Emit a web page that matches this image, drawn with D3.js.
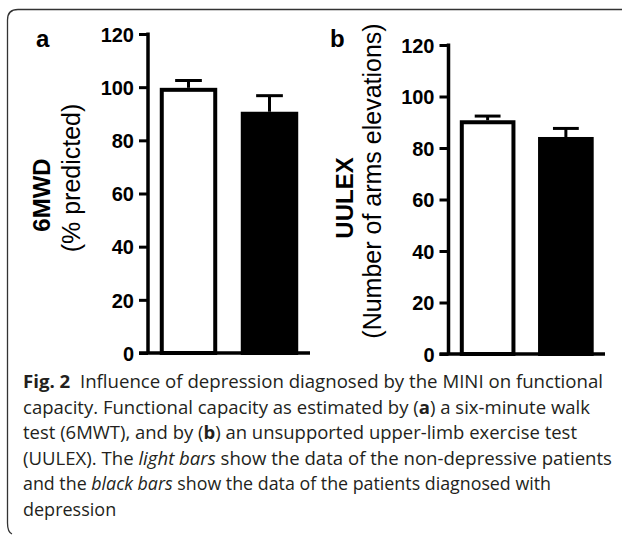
<!DOCTYPE html>
<html>
<head>
<meta charset="utf-8">
<script src="https://cdn.jsdelivr.net/npm/d3@7"></script>
<style>
  body { margin: 0; background: #fff; }
  svg { display: block; }
  .tick-label { font-family: "Liberation Sans", Arial, sans-serif; font-weight: bold; font-size: 20px; }
  .caption { font-family: "Open Sans", "Noto Sans", sans-serif; font-size: 18px; fill: #231f20; }
</style>
</head>
<body>
<div id="chart"></div>
<script>
const groups = ["Non-depressive", "Depressive"];
const yTicks = [0, 20, 40, 60, 80, 100, 120];

// panel a: 6MWD (% predicted), mean and SEM
const sixMwdMean = [99, 90];
const sixMwdSem = [3.5, 6.8];

// panel b: UULEX (number of arms elevations)
const uulexMean = [90, 83.5];
const uulexSem = [2.4, 4.1];

const barFill = ["#fff", "#000"];

const captionLines = [
  [["b", "Fig. 2"], ["n", "  Influence of depression diagnosed by the MINI on functional"]],
  [["n", "capacity. Functional capacity as estimated by ("], ["b", "a"], ["n", ") a six-minute walk"]],
  [["n", "test (6MWT), and by ("], ["b", "b"], ["n", ") an unsupported upper-limb exercise test"]],
  [["n", "(UULEX). The "], ["i", "light bars"], ["n", " show the data of the non-depressive patients"]],
  [["n", "and the "], ["i", "black bars"], ["n", " show the data of the patients diagnosed with"]],
  [["n", "depression"]]
];
// measured widths of the caption lines in the figure (last line left natural)
const captionWidths = [580, 567, 554, 589, 528, null];

const W = 624, H = 535;

const svg = d3.select("#chart")
  .append("svg")
  .attr("width", W)
  .attr("height", H);

// frame of the figure box (open on the right)
svg.append("path")
  .attr("d", "M622,9.5 H18 Q7.5,9.5 7.5,20 V523 Q7.5,532 12,534")
  .attr("fill", "none")
  .attr("stroke", "#333")
  .attr("stroke-width", 1.3);

function drawPanel(opts) {
  const g = svg.append("g");

  const y = d3.scaleLinear()
    .domain([0, 120])
    .range([opts.y0, opts.y120]);

  const x = d3.scaleBand()
    .domain(groups)
    .range([opts.axisX, opts.xEnd])
    .paddingInner(0.34)
    .paddingOuter(0.17);

  // bars
  g.selectAll(".bar")
    .data(opts.mean)
    .enter()
    .append("rect")
    .attr("class", "bar")
    .attr("x", (d, i) => x(groups[i]))
    .attr("y", (d) => y(d))
    .attr("width", x.bandwidth())
    .attr("height", (d) => y(0) - y(d))
    .attr("fill", (d, i) => barFill[i])
    .attr("stroke", "#000")
    .attr("stroke-width", 4);

  // error bars (upper only)
  const err = g.selectAll(".err")
    .data(opts.mean.map((m, i) => ({ m, s: opts.sem[i], k: groups[i] })))
    .enter()
    .append("g")
    .attr("class", "err")
    .attr("stroke", "#000")
    .attr("stroke-width", 3);

  err.append("line")
    .attr("x1", (d) => x(d.k) + x.bandwidth() / 2)
    .attr("x2", (d) => x(d.k) + x.bandwidth() / 2)
    .attr("y1", (d) => y(d.m) - 2)
    .attr("y2", (d) => y(d.m + d.s));

  err.append("line")
    .attr("x1", (d) => x(d.k) + x.bandwidth() / 4)
    .attr("x2", (d) => x(d.k) + x.bandwidth() * 3 / 4)
    .attr("y1", (d) => y(d.m + d.s))
    .attr("y2", (d) => y(d.m + d.s));

  // y axis
  const yAxis = g.append("g")
    .attr("transform", `translate(${opts.axisX},0)`)
    .call(d3.axisLeft(y).tickValues(yTicks).tickSize(9).tickPadding(5));
  yAxis.select(".domain").remove();
  yAxis.selectAll(".tick line").attr("stroke", "#000").attr("stroke-width", 3);
  yAxis.selectAll(".tick text")
    .attr("class", "tick-label")
    .attr("fill", "#000")
    .attr("dy", "0.36em");
  yAxis.append("line")
    .attr("x1", 0).attr("x2", 0)
    .attr("y1", y(120) - 1.5).attr("y2", y(0))
    .attr("stroke", "#000")
    .attr("stroke-width", 3.5);

  // x axis line
  g.append("line")
    .attr("x1", opts.axisX - 9)
    .attr("x2", opts.xEnd)
    .attr("y1", y(0))
    .attr("y2", y(0))
    .attr("stroke", "#000")
    .attr("stroke-width", 3.5);

  // axis titles
  g.append("text")
    .attr("transform", `translate(${opts.titleX},${opts.titleY}) rotate(-90)`)
    .attr("text-anchor", "middle")
    .style("font-family", "Liberation Sans, Arial, sans-serif")
    .style("font-weight", "bold")
    .style("font-size", "24px")
    .text(opts.title);

  g.append("text")
    .attr("transform", `translate(${opts.subX},${opts.subY}) rotate(-90)`)
    .attr("text-anchor", "middle")
    .style("font-family", "Liberation Sans, Arial, sans-serif")
    .style("font-size", "25px")
    .text(opts.subtitle);

  // panel letter
  g.append("text")
    .attr("x", opts.letterX)
    .attr("y", 47)
    .style("font-family", "Liberation Sans, Arial, sans-serif")
    .style("font-weight", "bold")
    .style("font-size", "24px")
    .text(opts.letter);
}

drawPanel({
  mean: sixMwdMean, sem: sixMwdSem,
  axisX: 148, xEnd: 310, y0: 353, y120: 34,
  title: "6MWD", titleX: 50, titleY: 195,
  subtitle: "(% predicted)", subX: 80, subY: 178,
  letter: "a", letterX: 36
});

drawPanel({
  mean: uulexMean, sem: uulexSem,
  axisX: 448.5, xEnd: 605, y0: 354, y120: 45,
  title: "UULEX", titleX: 353, titleY: 198,
  subtitle: "(Number of arms elevations)", subX: 381, subY: 181,
  letter: "b", letterX: 330
});

// caption
const cap = svg.append("g").attr("class", "caption");
captionLines.forEach((parts, li) => {
  const t = cap.append("text")
    .attr("x", 23)
    .attr("y", 388 + li * 25.6)
    .attr("xml:space", "preserve")
    .style("white-space", "pre");
  if (captionWidths[li]) {
    t.attr("textLength", captionWidths[li]).attr("lengthAdjust", "spacingAndGlyphs");
  }
  parts.forEach(([kind, str]) => {
    t.append("tspan")
      .style("font-weight", kind === "b" ? "bold" : null)
      .style("font-style", kind === "i" ? "italic" : null)
      .text(str);
  });
});
</script>
</body>
</html>
